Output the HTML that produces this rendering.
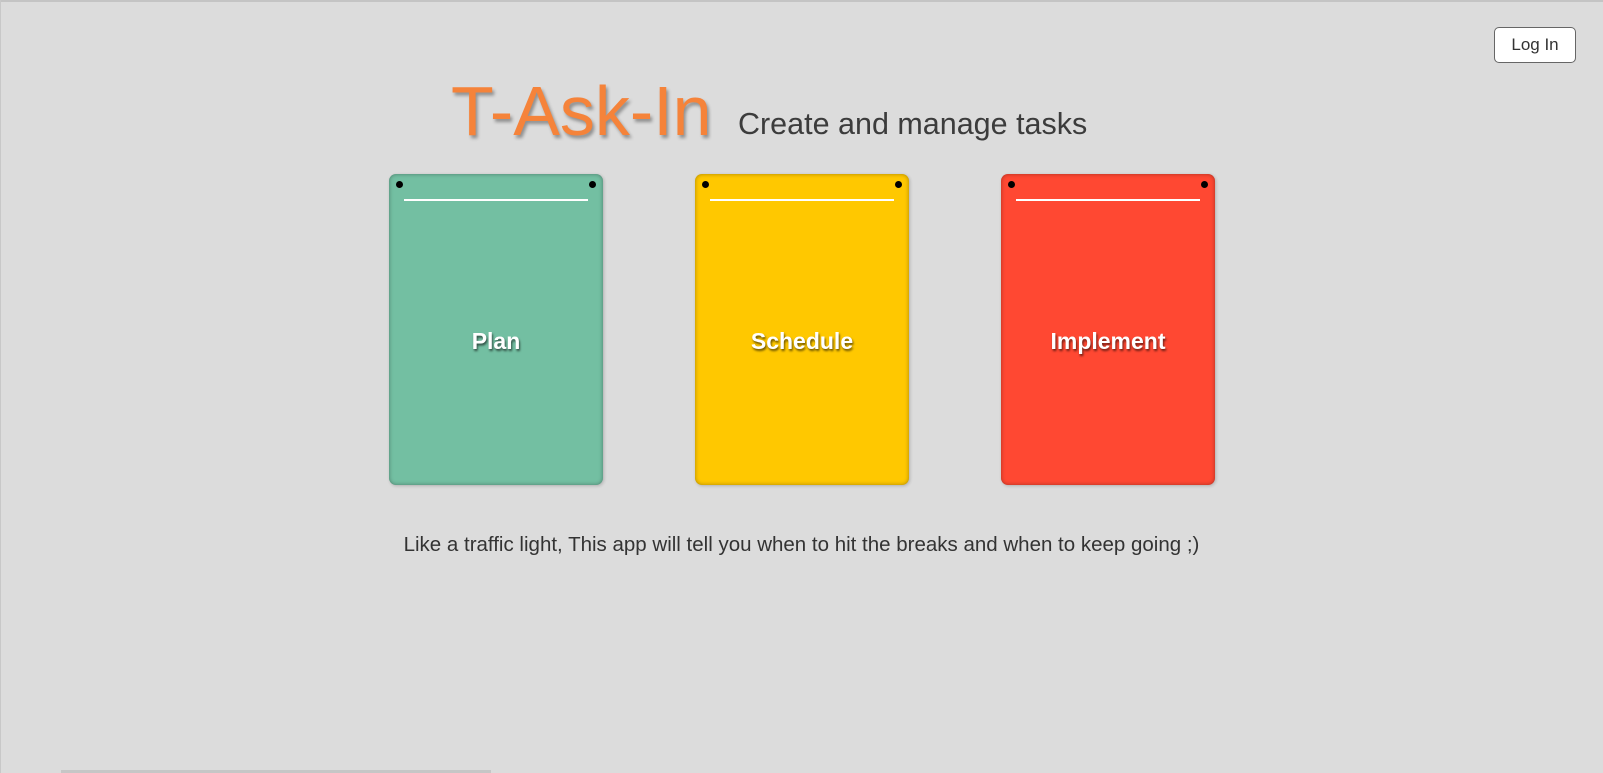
<!DOCTYPE html>
<html><head><style>
body{margin:0;width:1603px;height:773px;background:#dcdcdc;position:relative;overflow:hidden;font-family:"Liberation Sans",sans-serif;}
.top{position:absolute;left:0;top:0;width:1603px;height:2px;background:#c4c4c4}
.left{position:absolute;left:0;top:0;width:1px;height:773px;background:#c8c8c8}
.btn{position:absolute;left:1494px;top:27px;width:80px;height:34px;border:1px solid #666;border-radius:5px;background:#fff;font-size:17px;color:#333;text-align:center;line-height:34px}
.title{position:absolute;left:451px;top:71px;font-size:70px;color:#f5833a;text-shadow:2px 3px 3px rgba(0,0,0,.35);white-space:nowrap}
.sub{position:absolute;left:738px;top:107px;font-size:30.5px;color:#3c3c3c;white-space:nowrap}
.card{position:absolute;top:174px;width:214px;height:311px;border-radius:7px;box-shadow:inset 0 0 4px rgba(0,0,0,.35),1px 1px 3px rgba(0,0,0,.2)}
.card .d{position:absolute;top:7px;width:7px;height:7px;border-radius:50%;background:#000}
.card .l{position:absolute;left:15px;right:15px;top:25px;height:2px;background:#fff}
.card .t{position:absolute;left:0;right:0;top:154px;text-align:center;color:#fff;font-weight:bold;font-size:23px;text-shadow:1px 2px 2px rgba(0,0,0,.6)}
.foot{position:absolute;left:0;width:1603px;top:533px;text-align:center;font-size:20.5px;color:#333}
.bar{position:absolute;left:61px;top:770px;width:430px;height:3px;background:#c6c6c6}
</style></head><body>
<div class="top"></div><div class="left"></div>
<div class="btn">Log In</div>
<div class="title">T-Ask-In</div>
<div class="sub">Create and manage tasks</div>
<div class="card" style="left:389px;background:#73bfa2"><div class="d" style="left:7px"></div><div class="d" style="right:7px"></div><div class="l"></div><div class="t">Plan</div></div>
<div class="card" style="left:695px;background:#ffc800"><div class="d" style="left:7px"></div><div class="d" style="right:7px"></div><div class="l"></div><div class="t">Schedule</div></div>
<div class="card" style="left:1001px;background:#ff4832"><div class="d" style="left:7px"></div><div class="d" style="right:7px"></div><div class="l"></div><div class="t">Implement</div></div>
<div class="foot">Like a traffic light, This app will tell you when to hit the breaks and when to keep going ;)</div>
<div class="bar"></div>
</body></html>
